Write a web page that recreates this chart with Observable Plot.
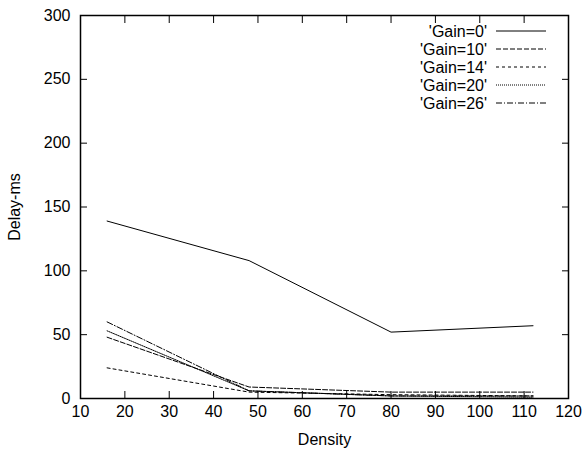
<!DOCTYPE html>
<html>
<head>
<meta charset="utf-8">
<script src="https://cdn.jsdelivr.net/npm/d3@7"></script>
<script src="https://cdn.jsdelivr.net/npm/@observablehq/plot@0.6"></script>
<style>
  html, body { margin: 0; padding: 0; background: #fff; }
  #wrap { position: relative; width: 586px; height: 451px; font-family: "Liberation Sans", Arial, sans-serif; }
  #legend { position: absolute; left: 0; top: 0; }
</style>
</head>
<body>
<div id="wrap"></div>
<script>
const density = [16, 48, 80, 112];
const seriesNames = ["'Gain=0'", "'Gain=10'", "'Gain=14'", "'Gain=20'", "'Gain=26'"];
const gain0  = [139, 108, 52, 57];
const gain10 = [48, 9, 5, 5];
const gain14 = [24, 5, 3, 2];
const gain20 = [53, 6, 2, 1];
const gain26 = [60, 6, 2, 2];
const xTicks = [10, 20, 30, 40, 50, 60, 70, 80, 90, 100, 110, 120];
const yTicks = [0, 50, 100, 150, 200, 250, 300];

const dashes = [null, "5,2", "3,3", "1,1", "6,2,1,2"];
const allSeries = [gain0, gain10, gain14, gain20, gain26];
const rows = [];
allSeries.forEach((vals, i) => vals.forEach((v, j) => rows.push({series: seriesNames[i], x: density[j], y: v, k: i})));

const W = 586, H = 451;
const mL = 80, mR = 18, mT = 15, mB = 53;
const font = "Liberation Sans, Arial, sans-serif";

const lineMarks = seriesNames.map((name, i) =>
  Plot.line(rows.filter(r => r.k === i), {x: "x", y: "y", stroke: "black", strokeWidth: 1, strokeDasharray: dashes[i]})
);

const chart = Plot.plot({
  width: W, height: H,
  marginLeft: mL, marginRight: mR, marginTop: mT, marginBottom: mB,
  style: {fontFamily: font, fontSize: "16px", color: "black", background: "white"},
  x: {domain: [10, 120], ticks: xTicks},
  y: {domain: [0, 300], ticks: yTicks},
  marks: [
    ...lineMarks,
    Plot.axisX({anchor: "bottom", ticks: xTicks, tickSize: -7, tickPadding: 14, label: "Density", labelAnchor: "center", labelArrow: "none", labelOffset: 46, fontSize: 16}),
    Plot.axisX({anchor: "top", ticks: xTicks, tickSize: -7, tickFormat: () => "", label: null}),
    Plot.axisY({anchor: "left", ticks: yTicks, tickSize: -7, tickPadding: 17, label: "Delay-ms", labelAnchor: "center", labelArrow: "none", labelOffset: 72, fontSize: 16}),
    Plot.axisY({anchor: "right", ticks: yTicks, tickSize: -7, tickFormat: () => "", label: null}),
    Plot.frame({stroke: "black", strokeWidth: 1.5})
  ]
});

const wrap = document.getElementById("wrap");
wrap.appendChild(chart);

// legend overlay
const ns = "http://www.w3.org/2000/svg";
const leg = document.createElementNS(ns, "svg");
leg.setAttribute("id", "legend");
leg.setAttribute("width", W);
leg.setAttribute("height", H);
leg.style.pointerEvents = "none";
seriesNames.forEach((name, i) => {
  const yy = 31 + i * 18;
  const t = document.createElementNS(ns, "text");
  t.setAttribute("x", 487);
  t.setAttribute("y", yy);
  t.setAttribute("text-anchor", "end");
  t.setAttribute("dominant-baseline", "central");
  t.setAttribute("font-family", font);
  t.setAttribute("font-size", "16");
  t.textContent = name;
  leg.appendChild(t);
  const l = document.createElementNS(ns, "line");
  l.setAttribute("x1", 496); l.setAttribute("x2", 546);
  l.setAttribute("y1", yy); l.setAttribute("y2", yy);
  l.setAttribute("stroke", "black");
  l.setAttribute("stroke-width", 1);
  if (dashes[i]) l.setAttribute("stroke-dasharray", dashes[i]);
  leg.appendChild(l);
});
wrap.appendChild(leg);
</script>
</body>
</html>
